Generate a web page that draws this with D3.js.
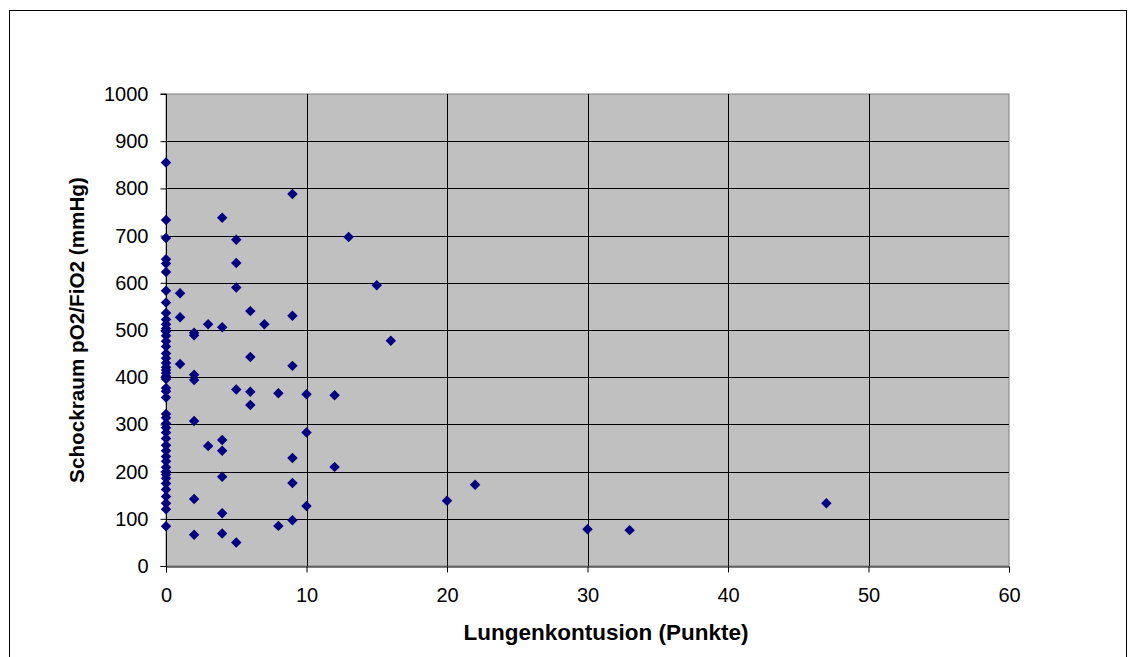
<!DOCTYPE html>
<html>
<head>
<meta charset="utf-8">
<script src="https://cdn.jsdelivr.net/npm/d3@7"></script>
<style>
  html, body { margin: 0; padding: 0; background: #fff; }
  svg { display: block; }
  text { font-family: "Liberation Sans", Arial, sans-serif; fill: #000; }
</style>
</head>
<body>
<svg id="chart" width="1136" height="657"></svg>
<script>
// Lung contusion score (x) vs. shock-room pO2/FiO2 (y)
const contusionZero = [855, 733, 695, 650, 641, 623, 583, 558, 536, 522, 512, 503, 497, 488,
  476, 465, 450, 440, 430, 421, 415, 409, 402, 396, 377, 370, 357, 322, 314, 302, 293, 283,
  270, 256, 244, 232, 222, 209, 200, 194, 186, 175, 162, 147, 133, 120, 84];

const contusionOther = [
  [1, 578], [1, 527], [1, 428],
  [2, 494], [2, 489], [2, 405], [2, 394], [2, 307], [2, 142], [2, 66],
  [3, 512], [3, 254],
  [4, 738], [4, 506], [4, 267], [4, 244], [4, 189], [4, 112], [4, 69],
  [5, 691], [5, 642], [5, 590], [5, 374], [5, 50],
  [6, 540], [6, 443], [6, 369], [6, 341],
  [7, 512],
  [8, 366], [8, 85],
  [9, 788], [9, 530], [9, 424], [9, 229], [9, 176], [9, 97],
  [10, 364], [10, 283], [10, 127],
  [12, 362], [12, 210],
  [13, 697], [15, 595], [16, 477],
  [20, 138], [22, 172], [30, 78], [33, 76], [47, 133]
];

const xTicks = [0, 10, 20, 30, 40, 50, 60];
const yTicks = [0, 100, 200, 300, 400, 500, 600, 700, 800, 900, 1000];

const xTitle = "Lungenkontusion (Punkte)";
const yTitle = "Schockraum pO2/FiO2 (mmHg)";

const points = contusionZero.map(v => [0, v]).concat(contusionOther);

const svg = d3.select("#chart");
const plot = { left: 166, top: 94, right: 1009, bottom: 566 };

// outer chart frame
svg.append("rect")
  .attr("x", 9.5).attr("y", 10.5)
  .attr("width", 1117).attr("height", 700)
  .attr("fill", "none").attr("stroke", "#000").attr("stroke-width", 1);

const x = d3.scaleLinear().domain([0, 60]).range([plot.left, plot.right]);
const y = d3.scaleLinear().domain([0, 1000]).range([plot.bottom, plot.top]);

// plot area
svg.append("rect")
  .attr("x", plot.left).attr("y", plot.top)
  .attr("width", plot.right - plot.left).attr("height", plot.bottom - plot.top)
  .attr("fill", "#c0c0c0").attr("stroke", "#808080").attr("stroke-width", 1);

// gridlines
svg.append("g").selectAll("line.h")
  .data(yTicks.filter(t => t > 0 && t < 1000))
  .join("line")
  .attr("x1", plot.left).attr("x2", plot.right)
  .attr("y1", d => Math.round(y(d)) + 0.5).attr("y2", d => Math.round(y(d)) + 0.5)
  .attr("stroke", "#000").attr("stroke-width", 1);

svg.append("g").selectAll("line.v")
  .data(xTicks.filter(t => t > 0 && t < 60))
  .join("line")
  .attr("y1", plot.top).attr("y2", plot.bottom)
  .attr("x1", d => Math.round(x(d)) + 0.5).attr("x2", d => Math.round(x(d)) + 0.5)
  .attr("stroke", "#000").attr("stroke-width", 1);

// axes
const yAxis = d3.axisLeft(y).tickValues(yTicks).tickSize(6).tickPadding(12).tickFormat(d3.format("d"));
const xAxis = d3.axisBottom(x).tickValues(xTicks).tickSize(6).tickPadding(15).tickFormat(d3.format("d"));

const gy = svg.append("g").attr("transform", `translate(${plot.left + 0.5},0)`).call(yAxis);
const gx = svg.append("g").attr("transform", `translate(0,${plot.bottom + 0.5})`).call(xAxis);

[gy, gx].forEach(g => {
  g.select(".domain").attr("stroke", "#000");
  g.selectAll(".tick line").attr("stroke", "#000");
  g.selectAll(".tick text")
    .style("font-family", '"Liberation Sans", Arial, sans-serif')
    .style("font-size", "20px").attr("fill", "#000");
});
gy.select(".domain").attr("d", `M-6,${plot.bottom + 0.5}H0V${plot.top}H-6`);

// markers
const diamond = d3.symbol().type(d3.symbolSquare).size(55);
svg.append("g").selectAll("path")
  .data(points)
  .join("path")
  .attr("d", diamond)
  .attr("transform", d => `translate(${x(d[0])},${y(d[1])}) rotate(45)`)
  .attr("fill", "#000080");

// axis titles
svg.append("text")
  .attr("x", 606).attr("y", 640)
  .attr("text-anchor", "middle")
  .style("font-size", "22.5px").style("font-weight", "bold")
  .text(xTitle);

svg.append("text")
  .attr("transform", `translate(84,${(plot.top + plot.bottom) / 2}) rotate(-90)`)
  .attr("text-anchor", "middle")
  .style("font-size", "20.7px").style("font-weight", "bold")
  .text(yTitle);
</script>
</body>
</html>
